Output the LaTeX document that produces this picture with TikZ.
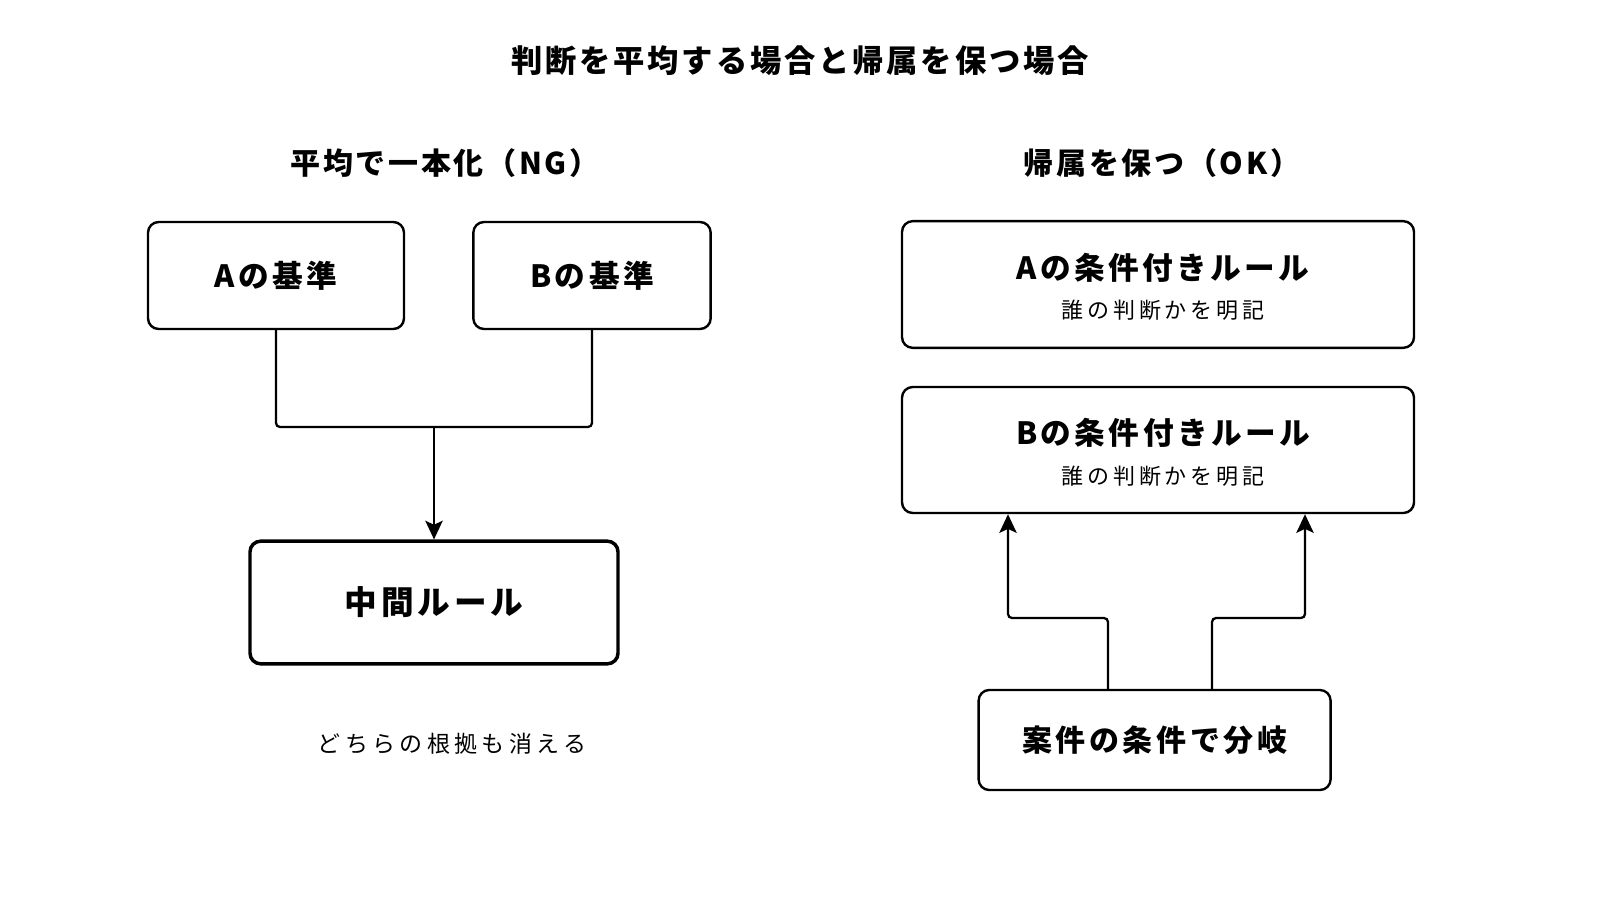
\documentclass[tikz,border=0pt]{standalone}
\usepackage{fontspec}
\setmainfont{Noto Sans CJK JP}
\usetikzlibrary{arrows.meta,calc}
\tikzset{
  box/.style={draw=black, line width=1.8pt, rounded corners=8pt, fill=white, inner sep=0pt},
  thickbox/.style={box, line width=2.6pt},
  conn/.style={draw=black, line width=1.7pt, rounded corners=3pt},
  arr/.style={conn, -{Stealth[length=14pt,width=13pt,inset=3pt]}},
  ttl/.style={font=\fontsize{23.5}{27}\bfseries\addfontfeature{LetterSpace=9}\selectfont},
  hd/.style={font=\fontsize{22.5}{26}\bfseries\addfontfeature{LetterSpace=9}\selectfont},
  lbl/.style={font=\fontsize{23}{26}\bfseries\addfontfeature{LetterSpace=11}\selectfont},
  big/.style={font=\fontsize{24.5}{28}\bfseries\addfontfeature{LetterSpace=12}\selectfont},
  sub/.style={font=\fontsize{16.5}{20}\selectfont\addfontfeature{LetterSpace=18}},
  note/.style={font=\fontsize{17.25}{20}\selectfont\addfontfeature{LetterSpace=19}},
}
\begin{document}
\begin{tikzpicture}[x=0.75pt,y=-0.75pt]
\useasboundingbox[fill=white] (0,0) rectangle (1600,900);

\node[ttl] (title) at (800,61) {判断を平均する場合と帰属を保つ場合};
\node[hd] (hl) at (445,163) {平均で一本化（NG）};
\node[hd] (hr) at (1162,163) {帰属を保つ（OK）};

% left side
\node[box, minimum width=192pt, minimum height=80.25pt, lbl] (A) at (276,275.5) {Aの基準};
\node[box, minimum width=178pt, minimum height=80.25pt, lbl] (B) at (592,275.5) {Bの基準};
\node[thickbox, minimum width=276pt, minimum height=92pt, big] (M) at (434,602.5) {中間ルール};
\node[note] (n) at (452,744) {どちらの根拠も消える};

\coordinate (jn) at (434,427);
\draw[conn] (A.south) |- (jn) -| (B.south);
\draw[arr] (jn) -- (M.north);

% right side
\node[box, minimum width=384pt, minimum height=95pt] (RA) at (1158,284.5) {};
\node[lbl] (RAt) at ($(RA.center)+(5,-17)$) {Aの条件付きルール};
\node[sub] (RAs) at ($(RA.center)+(5,26)$) {誰の判断かを明記};

\node[box, minimum width=384pt, minimum height=94.5pt] (RB) at (1158,450) {};
\node[lbl] (RBt) at ($(RB.center)+(5,-17)$) {Bの条件付きルール};
\node[sub] (RBs) at ($(RB.center)+(5,26)$) {誰の判断かを明記};

\node[box, minimum width=264pt, minimum height=75pt, font=\fontsize{22.5}{26}\bfseries\addfontfeature{LetterSpace=12}\selectfont] (RC) at (1154.6,740) {案件の条件で分岐};

\coordinate (bl) at (1108,618);
\coordinate (tl) at (1008,618);
\coordinate (br) at (1212,618);
\coordinate (tr) at (1305,618);
\draw[arr] (RC.north -| bl) -- (bl) -- (tl) -- (tl |- RB.south);
\draw[arr] (RC.north -| br) -- (br) -- (tr) -- (tr |- RB.south);
\end{tikzpicture}
\end{document}
